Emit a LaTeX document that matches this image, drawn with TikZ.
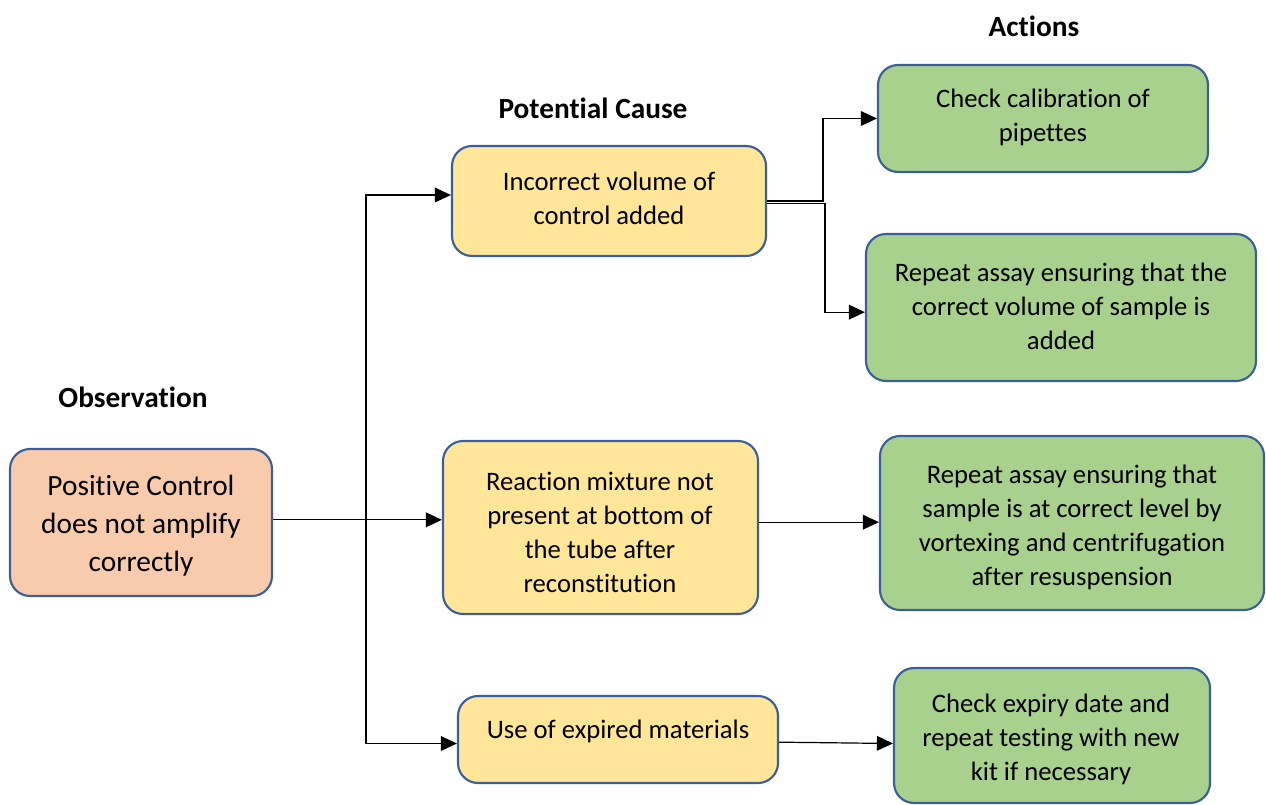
\documentclass[tikz,border=0pt]{standalone}
\usepackage{fontspec}
\setmainfont{Carlito}[Ligatures=CommonOff]
\usetikzlibrary{arrows.meta,fit,calc}
\definecolor{bord}{HTML}{3A5F9A}
\definecolor{obsfill}{HTML}{F8CBAD}
\definecolor{causefill}{HTML}{FFE699}
\definecolor{actfill}{HTML}{A9D18E}
\tikzset{
  box/.style={draw=bord, line width=1.6pt, rounded corners=15pt, inner sep=0pt},
  obsbox/.style={box, fill=obsfill},
  causebox/.style={box, fill=causefill},
  actbox/.style={box, fill=actfill},
  txt/.style={align=center, inner sep=0pt, font=\fontsize{20}{25.5}\selectfont},
  obstxt/.style={align=center, inner sep=0pt, font=\fontsize{22}{28.5}\selectfont},
  head/.style={inner sep=0pt, font=\fontsize{22}{26}\selectfont\bfseries},
  arr/.style={line width=0.9pt, -{Triangle[length=12pt,width=11pt]}},
  ln/.style={line width=0.9pt}
}
\begin{document}
\begin{tikzpicture}[x=0.75pt,y=-0.75pt]
\useasboundingbox (0,0) rectangle (1266,805);
% headers
\node[head] (h1) at (1034,26) {Actions};
\node[head] (h2) at (593,108) {Potential Cause};
\node[head] (h3) at (133,397) {Observation};
% boxes
\node[obsbox, fit={(10,449) (272,596)}] (obs) {};
\node[causebox, fit={(452,146) (766,256)}] (c1) {};
\node[causebox, fit={(443,441) (758,614)}] (c2) {};
\node[causebox, fit={(458,696) (778,783)}] (c3) {};
\node[actbox, fit={(878,65) (1208,172)}] (a1) {};
\node[actbox, fit={(866,234) (1256,381)}] (a2) {};
\node[actbox, fit={(880,436) (1264,610)}] (a3) {};
\node[actbox, fit={(894,668) (1210,803)}] (a4) {};
% texts
\node[obstxt] (obst) at (141,526) {Positive Control\\does not amplify\\correctly};
\node[txt] (c1t) at (609,198) {Incorrect volume of\\control added};
\node[txt] (c2t) at (600,532) {Reaction mixture not\\present at bottom of\\the tube after\\reconstitution};
\node[txt] (c3t) at (618,731) {Use of expired materials};
\node[txt] (a1t) at (1043,117) {Check calibration of\\pipettes};
\node[txt] (a2t) at (1061,306) {Repeat assay ensuring that the\\correct volume of sample is\\added};
\node[txt] (a3t) at (1072,527) {Repeat assay ensuring that\\sample is at correct level by\\vortexing and centrifugation\\after resuspension};
\node[txt] (a4t) at (1051,739) {Check expiry date and\\repeat testing with new\\kit if necessary};
% connectors
\coordinate (j) at (366,520);
\draw[arr] ([yshift=2pt]obs.east) -- ([yshift=2pt]obs.east -| c2.west);
\draw[arr] (j) |- ([yshift=4.5pt]c1.west);
\draw[arr] (j) |- ([yshift=-3pt]c3.west);
\draw[arr] (c1.east) -- ++(56,0) |- (a1.west);
\draw[arr] ([yshift=-2pt]c1.east) -- ++(58,0) |- ([yshift=-3.5pt]a2.west);
\draw[arr] ([yshift=4pt]c2.east) -- ([yshift=4pt]c2.east -| a3.west);
\draw[arr] ([yshift=-2pt]c3.east) -- ([yshift=-6pt]a4.west);
\end{tikzpicture}
\end{document}
